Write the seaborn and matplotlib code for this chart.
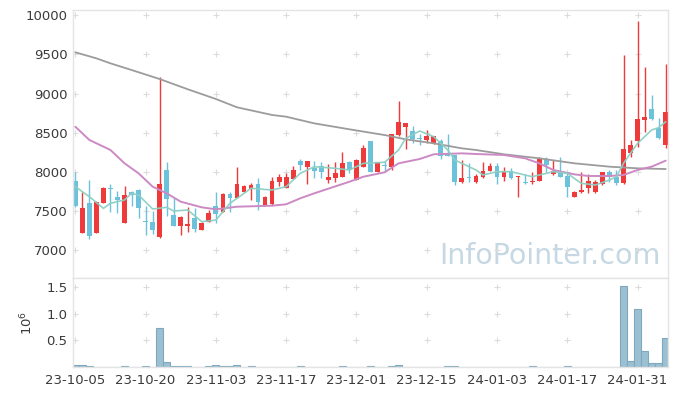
import numpy as np
import pandas as pd
import matplotlib
matplotlib.use("Agg")
import matplotlib.pyplot as plt
import seaborn as sns

# ---------------- data ----------------
opens = [7885, 7225, 7610, 7225, 7610, 7795, 7680, 7355, 7740, 7770,
         7365, 7365, 7175, 8025, 7450, 7315, 7315, 7410, 7260, 7365,
         7565, 7495, 7720, 7670, 7750, 7785, 7845, 7570, 7590, 7870,
         7800, 7910, 8140, 8060, 8055, 8075, 7900, 7925, 7940, 8125,
         7900, 8070, 8395, 8005, 8085, 8070, 8470, 8580, 8520, 8440,
         8410, 8375, 8395, 8240, 8215, 7870, 7935, 7870, 7940, 8015,
         8075, 7930, 8015, 7935, 7870, 7870, 7890, 8165, 7970, 7990,
         7950, 7685, 7740, 7790, 7740, 7845, 7995, 7940, 7855, 8245,
         8390, 8670, 8800, 8565, 8345]
highs = [8000, 7740, 7900, 7625, 7810, 7845, 7760, 7815, 7760, 7780,
         7560, 7500, 9215, 8125, 7665, 7440, 7555, 7535, 7360, 7510,
         7740, 7730, 7750, 8070, 7830, 7865, 7920, 7690, 7930, 7975,
         7990, 8075, 8160, 8145, 8140, 8130, 8100, 8125, 8260, 8135,
         8160, 8340, 8400, 8130, 8140, 8490, 8905, 8630, 8590, 8480,
         8535, 8460, 8420, 8480, 8220, 8155, 8110, 7975, 8130, 8110,
         8110, 8070, 8045, 7945, 7970, 8005, 8195, 8195, 8150, 8195,
         7985, 7760, 8000, 7970, 7900, 8000, 8025, 8025, 9495, 8410,
         9930, 9345, 8985, 8685, 9385]
lows = [7550, 7220, 7140, 7220, 7605, 7490, 7480, 7350, 7560, 7415,
        7195, 7215, 7160, 7435, 7310, 7195, 7240, 7230, 7255, 7360,
        7345, 7490, 7485, 7665, 7745, 7645, 7515, 7565, 7585, 7815,
        7795, 7905, 8025, 7845, 7920, 7920, 7865, 7875, 7935, 7990,
        7895, 8065, 8000, 8000, 8005, 8025, 8465, 8300, 8375, 8345,
        8365, 8355, 8160, 8200, 7840, 7865, 7875, 7865, 7920, 8010,
        7845, 7885, 7915, 7685, 7850, 7845, 7885, 8005, 7965, 7930,
        7685, 7680, 7735, 7730, 7735, 7840, 7875, 7835, 7850, 8195,
        8325, 8515, 8660, 8420, 8310]
closes = [7560, 7545, 7185, 7620, 7800, 7785, 7645, 7705, 7710, 7545,
          7360, 7260, 7845, 7655, 7315, 7430, 7335, 7270, 7345, 7480,
          7465, 7720, 7665, 7845, 7820, 7835, 7620, 7685, 7885, 7940,
          7940, 8025, 8090, 8140, 8015, 8005, 7940, 7985, 8110, 8025,
          8150, 8310, 8005, 8125, 8080, 8485, 8635, 8620, 8420, 8420,
          8455, 8455, 8210, 8210, 7875, 7920, 7920, 7950, 8015, 8080,
          7930, 8015, 7920, 7940, 7855, 7890, 8165, 8090, 8015, 7935,
          7805, 7750, 7770, 7885, 7875, 7995, 7930, 7855, 8300, 8345,
          8675, 8700, 8675, 8430, 8760]
# volume in millions of shares
volume = [0.04, 0.04, 0.025, 0.002, 0.002, 0.002, 0.002, 0.015, 0.002, 0.002,
          0.015, 0.002, 0.73, 0.094, 0.02, 0.02, 0.02, 0.002, 0.002, 0.015,
          0.04, 0.02, 0.02, 0.04, 0.002, 0.02, 0.002, 0.002, 0.002, 0.002,
          0.002, 0.002, 0.015, 0.002, 0.002, 0.002, 0.002, 0.002, 0.015, 0.002,
          0.002, 0.002, 0.015, 0.002, 0.002, 0.015, 0.035, 0.002, 0.002, 0.002,
          0.002, 0.002, 0.002, 0.015, 0.015, 0.002, 0.002, 0.002, 0.002, 0.002,
          0.002, 0.002, 0.002, 0.002, 0.002, 0.015, 0.002, 0.002, 0.002, 0.002,
          0.015, 0.002, 0.002, 0.002, 0.002, 0.002, 0.002, 0.002, 1.52, 0.12,
          1.09, 0.31, 0.075, 0.07, 0.54]

# moving-average lines (index, value)
ma_short_idx = [0, 2, 4, 5, 7, 8, 9, 11, 13, 14, 16, 18, 20, 22, 25, 28, 30, 32, 34, 37,
                39, 41, 44, 46, 47, 49, 51, 53, 54, 57, 58, 60, 62, 65, 68, 70, 72, 74,
                76, 77, 78, 80, 82, 83, 84]
ma_short_val = [7813, 7685, 7536, 7600, 7643, 7728, 7706, 7528, 7549, 7502, 7515, 7366,
                7387, 7600, 7792, 7770, 7813, 7983, 8068, 8047, 8026, 8111, 8124, 8281,
                8430, 8523, 8451, 8281, 8153, 8026, 7962, 8004, 8004, 7940, 8004, 7983,
                7855, 7834, 7898, 7940, 8111, 8366, 8536, 8566, 8642]
ma_mid_idx = [0, 2, 5, 7, 9, 11, 13, 15, 18, 20, 23, 28, 30, 32, 34, 39, 41, 44, 46, 49,
              51, 55, 57, 61, 64, 66, 68, 71, 73, 76, 78, 80, 82, 84]
ma_mid_val = [8578, 8409, 8281, 8111, 7983, 7813, 7728, 7621, 7549, 7524, 7557, 7570,
              7588, 7664, 7728, 7876, 7940, 7996, 8111, 8166, 8226, 8238, 8230, 8217,
              8175, 8111, 8026, 7970, 7949, 7949, 7962, 8026, 8068, 8145]
ma_long_idx = [0, 3, 5, 8, 12, 16, 20, 23, 28, 30, 34, 39, 44, 47, 51, 55, 57, 61, 66,
               71, 76, 80, 84]
ma_long_val = [9528, 9451, 9387, 9302, 9187, 9056, 8932, 8826, 8728, 8706, 8621, 8545,
               8472, 8417, 8366, 8302, 8281, 8226, 8175, 8111, 8068, 8047, 8038]

tick_idx = [0, 10, 20, 30, 40, 50, 60, 70, 80]
tick_labels = ["23-10-05", "23-10-20", "23-11-03", "23-11-17", "23-12-01",
               "23-12-15", "24-01-03", "24-01-17", "24-01-31"]
price_ticks = [7000, 7500, 8000, 8500, 9000, 9500, 10000]
vol_ticks = [0.5, 1.0, 1.5]

# ---------------- style ----------------
sns.set_theme(style="white")
plt.rcParams['font.family'] = ['DejaVu Sans']

UP = "#ef3a3c"
DOWN = "#6cc2da"
FRAME = "#e4e4e4"
TXT = "#3a3a3a"

fig = plt.figure(figsize=(6.77, 3.96), dpi=100)
ax = fig.add_axes([73/677, 1-278/396, (668-73)/677, (278-10)/396])
axv = fig.add_axes([73/677, 1-367/396, (668-73)/677, (367-278)/396], sharex=ax)

df = pd.DataFrame({"o": opens, "h": highs, "l": lows, "c": closes, "v": volume})
df["i"] = np.arange(len(df))
df["up"] = df["c"] >= df["o"]
df["bot"] = df[["o", "c"]].min(axis=1)
df["ht"] = (df["c"] - df["o"]).abs().clip(lower=12)
colors = np.where(df["up"], UP, DOWN)

# wicks
ax.vlines(df["i"], df["l"], df["h"], colors=colors, linewidth=1.0, zorder=2)
# bodies
ax.bar(df["i"], df["ht"], bottom=df["bot"], width=0.68, color=colors,
       linewidth=0, zorder=2)

# moving averages
sns.lineplot(x=ma_long_idx, y=ma_long_val, ax=ax, color="#9c9c9c", linewidth=1.3,
             zorder=3)
sns.lineplot(x=ma_mid_idx, y=ma_mid_val, ax=ax, color="#cc8ac4", linewidth=1.4,
             zorder=3)
sns.lineplot(x=ma_short_idx, y=ma_short_val, ax=ax, color="#8ccfc3", linewidth=1.2,
             zorder=3, alpha=0.95)

# volume
axv.bar(df["i"], df["v"], width=1.0, color="#9bc0d2", edgecolor="#7fa9bf",
        linewidth=0.8, zorder=2)

xmin, xmax = -0.33, 84.33
ax.set_xlim(xmin, xmax)
ax.set_ylim(6647, 10068)
axv.set_ylim(0, 1.675)

# grid "+" marks
gx, gy = np.meshgrid(tick_idx, price_ticks)
ax.plot(gx.ravel(), gy.ravel(), linestyle="none", marker="+", markersize=5,
        color="#dcdcdc", markeredgewidth=0.8, zorder=1)
gx2, gy2 = np.meshgrid(tick_idx, vol_ticks)
axv.plot(gx2.ravel(), gy2.ravel(), linestyle="none", marker="+", markersize=5,
         color="#dcdcdc", markeredgewidth=0.8, zorder=1)

for a in (ax, axv):
    for s in a.spines.values():
        s.set_color(FRAME)
        s.set_linewidth(1.0)
    a.tick_params(length=0, colors=TXT, labelsize=9.5, pad=4)
    a.set_xlabel("")
    a.set_ylabel("")

ax.set_yticks(price_ticks)
ax.set_yticklabels([str(t) for t in price_ticks])
ax.tick_params(labelbottom=False)
axv.set_yticks(vol_ticks)
axv.set_yticklabels(["0.5", "1.0", "1.5"])
axv.set_xticks(tick_idx)
axv.set_xticklabels(tick_labels)
axv.tick_params(axis="x", pad=5)
axv.set_ylabel("$10^6$", color=TXT, fontsize=9.5, labelpad=8)

# watermark
ax.text(0.987, 0.03, "InfoPointer.com", transform=ax.transAxes, ha="right",
        va="bottom", fontsize=20.5, color="#c5d8e3", zorder=0)

fig.savefig("out.png", dpi=100)
